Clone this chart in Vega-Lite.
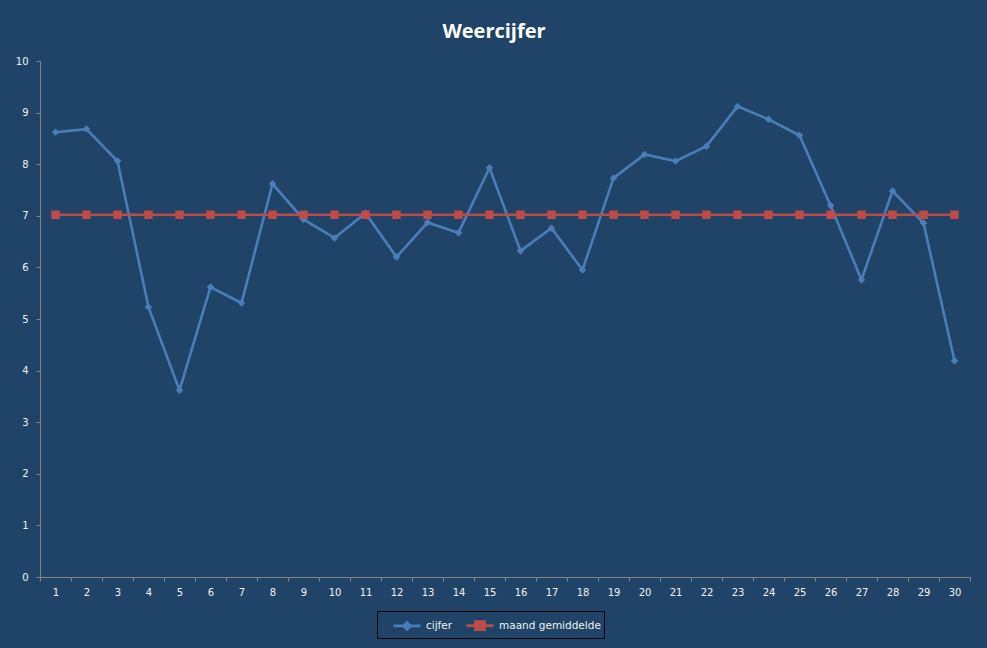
{
  "$schema": "https://vega.github.io/schema/vega-lite/v6.json",
  "width": 930,
  "height": 516,
  "autosize": {"type": "none"},
  "padding": {"left": 40, "top": 61, "right": 17, "bottom": 71},
  "background": "#1F4467",
  "title": {
    "text": "Weercijfer",
    "font": "Open Sans",
    "fontSize": 20,
    "fontWeight": "bold",
    "color": "#FFFFFF",
    "anchor": "middle",
    "frame": "group",
    "baseline": "alphabetic",
    "offset": -2,
    "dx": -11
  },
  "config": {
    "view": {"stroke": null},
    "axis": {
      "grid": false,
      "domainColor": "#868686",
      "tickColor": "#868686",
      "labelColor": "#F2F2F2",
      "labelFont": "DejaVu Sans",
      "labelFontSize": 10,
      "tickSize": 4,
      "domainWidth": 1,
      "tickWidth": 1
    }
  },
  "data": {
    "values": [
      {"dag": 1, "reeks": "cijfer", "waarde": 8.62},
      {"dag": 2, "reeks": "cijfer", "waarde": 8.68},
      {"dag": 3, "reeks": "cijfer", "waarde": 8.06},
      {"dag": 4, "reeks": "cijfer", "waarde": 5.23},
      {"dag": 5, "reeks": "cijfer", "waarde": 3.62},
      {"dag": 6, "reeks": "cijfer", "waarde": 5.62},
      {"dag": 7, "reeks": "cijfer", "waarde": 5.31},
      {"dag": 8, "reeks": "cijfer", "waarde": 7.62},
      {"dag": 9, "reeks": "cijfer", "waarde": 6.93},
      {"dag": 10, "reeks": "cijfer", "waarde": 6.57},
      {"dag": 11, "reeks": "cijfer", "waarde": 7.05},
      {"dag": 12, "reeks": "cijfer", "waarde": 6.2},
      {"dag": 13, "reeks": "cijfer", "waarde": 6.87},
      {"dag": 14, "reeks": "cijfer", "waarde": 6.67},
      {"dag": 15, "reeks": "cijfer", "waarde": 7.93},
      {"dag": 16, "reeks": "cijfer", "waarde": 6.32},
      {"dag": 17, "reeks": "cijfer", "waarde": 6.76},
      {"dag": 18, "reeks": "cijfer", "waarde": 5.95},
      {"dag": 19, "reeks": "cijfer", "waarde": 7.73},
      {"dag": 20, "reeks": "cijfer", "waarde": 8.19},
      {"dag": 21, "reeks": "cijfer", "waarde": 8.06},
      {"dag": 22, "reeks": "cijfer", "waarde": 8.35},
      {"dag": 23, "reeks": "cijfer", "waarde": 9.12},
      {"dag": 24, "reeks": "cijfer", "waarde": 8.87},
      {"dag": 25, "reeks": "cijfer", "waarde": 8.56},
      {"dag": 26, "reeks": "cijfer", "waarde": 7.2},
      {"dag": 27, "reeks": "cijfer", "waarde": 5.76},
      {"dag": 28, "reeks": "cijfer", "waarde": 7.48},
      {"dag": 29, "reeks": "cijfer", "waarde": 6.86},
      {"dag": 30, "reeks": "cijfer", "waarde": 4.19},
      {"dag": 1, "reeks": "maand gemiddelde", "waarde": 7.02},
      {"dag": 2, "reeks": "maand gemiddelde", "waarde": 7.02},
      {"dag": 3, "reeks": "maand gemiddelde", "waarde": 7.02},
      {"dag": 4, "reeks": "maand gemiddelde", "waarde": 7.02},
      {"dag": 5, "reeks": "maand gemiddelde", "waarde": 7.02},
      {"dag": 6, "reeks": "maand gemiddelde", "waarde": 7.02},
      {"dag": 7, "reeks": "maand gemiddelde", "waarde": 7.02},
      {"dag": 8, "reeks": "maand gemiddelde", "waarde": 7.02},
      {"dag": 9, "reeks": "maand gemiddelde", "waarde": 7.02},
      {"dag": 10, "reeks": "maand gemiddelde", "waarde": 7.02},
      {"dag": 11, "reeks": "maand gemiddelde", "waarde": 7.02},
      {"dag": 12, "reeks": "maand gemiddelde", "waarde": 7.02},
      {"dag": 13, "reeks": "maand gemiddelde", "waarde": 7.02},
      {"dag": 14, "reeks": "maand gemiddelde", "waarde": 7.02},
      {"dag": 15, "reeks": "maand gemiddelde", "waarde": 7.02},
      {"dag": 16, "reeks": "maand gemiddelde", "waarde": 7.02},
      {"dag": 17, "reeks": "maand gemiddelde", "waarde": 7.02},
      {"dag": 18, "reeks": "maand gemiddelde", "waarde": 7.02},
      {"dag": 19, "reeks": "maand gemiddelde", "waarde": 7.02},
      {"dag": 20, "reeks": "maand gemiddelde", "waarde": 7.02},
      {"dag": 21, "reeks": "maand gemiddelde", "waarde": 7.02},
      {"dag": 22, "reeks": "maand gemiddelde", "waarde": 7.02},
      {"dag": 23, "reeks": "maand gemiddelde", "waarde": 7.02},
      {"dag": 24, "reeks": "maand gemiddelde", "waarde": 7.02},
      {"dag": 25, "reeks": "maand gemiddelde", "waarde": 7.02},
      {"dag": 26, "reeks": "maand gemiddelde", "waarde": 7.02},
      {"dag": 27, "reeks": "maand gemiddelde", "waarde": 7.02},
      {"dag": 28, "reeks": "maand gemiddelde", "waarde": 7.02},
      {"dag": 29, "reeks": "maand gemiddelde", "waarde": 7.02},
      {"dag": 30, "reeks": "maand gemiddelde", "waarde": 7.02}
    ]
  },
  "encoding": {
    "x": {
      "field": "dag",
      "type": "ordinal",
      "scale": {"type": "band", "paddingInner": 0, "paddingOuter": 0},
      "axis": {"title": null, "labelAngle": 0, "tickBand": "extent", "labelPadding": 6}
    },
    "y": {
      "field": "waarde",
      "type": "quantitative",
      "scale": {"domain": [0, 10], "nice": false, "zero": true},
      "axis": {"title": null, "values": [0, 1, 2, 3, 4, 5, 6, 7, 8, 9, 10], "labelPadding": 8}
    }
  },
  "layer": [
    {
      "mark": {"type": "line", "strokeWidth": 2.6},
      "encoding": {
        "color": {
          "field": "reeks",
          "type": "nominal",
          "scale": {"domain": ["cijfer", "maand gemiddelde"], "range": ["#4A7EBB", "#BE4B48"]},
          "legend": {
            "title": null,
            "orient": "none",
            "direction": "horizontal",
            "legendX": 337,
            "legendY": 550,
            "padding": 3,
            "symbolOffset": 15.5,
            "strokeColor": "#000000",
            "fillColor": "#1F4467",
            "labelColor": "#F2F2F2",
            "labelFont": "DejaVu Sans",
            "labelFontSize": 10.5,
            "labelOffset": 7.5,
            "columnPadding": 0,
            "symbolSize": 400,
            "symbolStrokeWidth": 2.6,
            "encode": {
              "symbols": {
                "update": {
                  "shape": {"signal": "datum.value === 'cijfer' ? 'M-1.35,0L1.35,0M0,-0.35L0.35,0L0,0.35L-0.35,0Z' : 'M-1.35,0L1.35,0M-0.45,-0.4L0.45,-0.4L0.45,0.4L-0.45,0.4Z'"},
                  "fill": {"signal": "scale('color', datum.value)"},
                  "stroke": {"signal": "scale('color', datum.value)"},
                  "fillOpacity": {"value": 1},
                  "strokeOpacity": {"value": 1},
                  "strokeWidth": {"value": 2.6},
                  "size": {"value": 400}
                }
              }
            }
          }
        },
        "order": {"field": "dag", "type": "quantitative"}
      }
    },
    {
      "transform": [{"filter": "datum.reeks === 'cijfer'"}],
      "mark": {"type": "point", "filled": true, "opacity": 1, "shape": "diamond", "size": 56, "color": "#4A7EBB"}
    },
    {
      "transform": [{"filter": "datum.reeks === 'maand gemiddelde'"}],
      "mark": {"type": "point", "filled": true, "opacity": 1, "shape": "square", "size": 72, "color": "#BE4B48"}
    }
  ]
}
